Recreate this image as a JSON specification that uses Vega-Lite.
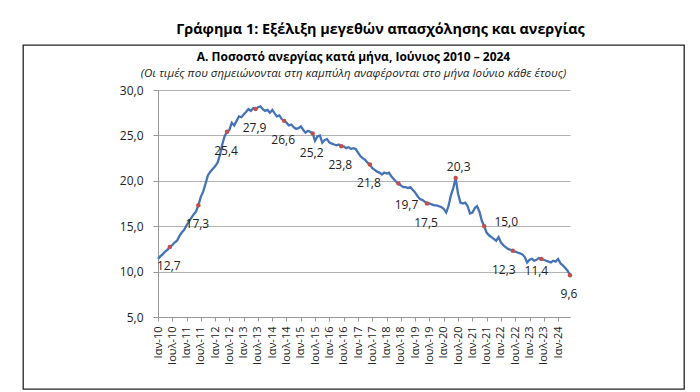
{
  "$schema": "https://vega.github.io/schema/vega-lite/v6.json",
  "background": "white",
  "padding": {"left": 22, "top": 22, "right": 17, "bottom": 2},
  "title": {
    "text": "Γράφημα 1: Εξέλιξη μεγεθών απασχόλησης και ανεργίας",
    "font": "Open Sans", "fontSize": 14.4, "fontWeight": "bold", "color": "#000",
    "anchor": "middle", "dx": 27, "offset": 6.5
  },
  "datasets": {
    "monthly": [
      {"date": "2010-01-01", "value": 11.4}, {"date": "2010-02-01", "value": 11.7}, {"date": "2010-03-01", "value": 11.9}, {"date": "2010-04-01", "value": 12.2}, {"date": "2010-05-01", "value": 12.4}, {"date": "2010-06-01", "value": 12.7}, {"date": "2010-07-01", "value": 12.9}, {"date": "2010-08-01", "value": 13.2}, {"date": "2010-09-01", "value": 13.4}, {"date": "2010-10-01", "value": 13.9}, {"date": "2010-11-01", "value": 14.3}, {"date": "2010-12-01", "value": 14.6},
      {"date": "2011-01-01", "value": 15.1}, {"date": "2011-02-01", "value": 15.5}, {"date": "2011-03-01", "value": 15.9}, {"date": "2011-04-01", "value": 16.3}, {"date": "2011-05-01", "value": 16.6}, {"date": "2011-06-01", "value": 17.3}, {"date": "2011-07-01", "value": 18.2}, {"date": "2011-08-01", "value": 18.8}, {"date": "2011-09-01", "value": 19.7}, {"date": "2011-10-01", "value": 20.6}, {"date": "2011-11-01", "value": 21.0}, {"date": "2011-12-01", "value": 21.3},
      {"date": "2012-01-01", "value": 21.6}, {"date": "2012-02-01", "value": 22.0}, {"date": "2012-03-01", "value": 22.8}, {"date": "2012-04-01", "value": 24.0}, {"date": "2012-05-01", "value": 24.9}, {"date": "2012-06-01", "value": 25.4}, {"date": "2012-07-01", "value": 25.6}, {"date": "2012-08-01", "value": 26.4}, {"date": "2012-09-01", "value": 26.1}, {"date": "2012-10-01", "value": 26.6}, {"date": "2012-11-01", "value": 27.1}, {"date": "2012-12-01", "value": 27.0},
      {"date": "2013-01-01", "value": 27.3}, {"date": "2013-02-01", "value": 27.6}, {"date": "2013-03-01", "value": 27.9}, {"date": "2013-04-01", "value": 27.7}, {"date": "2013-05-01", "value": 28.0}, {"date": "2013-06-01", "value": 27.9}, {"date": "2013-07-01", "value": 28.1}, {"date": "2013-08-01", "value": 28.2}, {"date": "2013-09-01", "value": 27.9}, {"date": "2013-10-01", "value": 27.7}, {"date": "2013-11-01", "value": 27.8}, {"date": "2013-12-01", "value": 27.5},
      {"date": "2014-01-01", "value": 27.8}, {"date": "2014-02-01", "value": 27.4}, {"date": "2014-03-01", "value": 27.1}, {"date": "2014-04-01", "value": 27.2}, {"date": "2014-05-01", "value": 26.8}, {"date": "2014-06-01", "value": 26.6}, {"date": "2014-07-01", "value": 26.4}, {"date": "2014-08-01", "value": 26.1}, {"date": "2014-09-01", "value": 26.2}, {"date": "2014-10-01", "value": 25.9}, {"date": "2014-11-01", "value": 25.7}, {"date": "2014-12-01", "value": 25.8},
      {"date": "2015-01-01", "value": 26.0}, {"date": "2015-02-01", "value": 25.6}, {"date": "2015-03-01", "value": 25.3}, {"date": "2015-04-01", "value": 25.5}, {"date": "2015-05-01", "value": 25.4}, {"date": "2015-06-01", "value": 25.2}, {"date": "2015-07-01", "value": 24.4}, {"date": "2015-08-01", "value": 24.9}, {"date": "2015-09-01", "value": 25.0}, {"date": "2015-10-01", "value": 24.2}, {"date": "2015-11-01", "value": 24.5}, {"date": "2015-12-01", "value": 24.6},
      {"date": "2016-01-01", "value": 24.2}, {"date": "2016-02-01", "value": 24.1}, {"date": "2016-03-01", "value": 24.0}, {"date": "2016-04-01", "value": 23.9}, {"date": "2016-05-01", "value": 24.0}, {"date": "2016-06-01", "value": 23.8}, {"date": "2016-07-01", "value": 23.8}, {"date": "2016-08-01", "value": 23.6}, {"date": "2016-09-01", "value": 23.7}, {"date": "2016-10-01", "value": 23.5}, {"date": "2016-11-01", "value": 23.6}, {"date": "2016-12-01", "value": 23.5},
      {"date": "2017-01-01", "value": 23.1}, {"date": "2017-02-01", "value": 22.7}, {"date": "2017-03-01", "value": 22.5}, {"date": "2017-04-01", "value": 22.3}, {"date": "2017-05-01", "value": 22.0}, {"date": "2017-06-01", "value": 21.8}, {"date": "2017-07-01", "value": 21.4}, {"date": "2017-08-01", "value": 21.2}, {"date": "2017-09-01", "value": 21.0}, {"date": "2017-10-01", "value": 20.9}, {"date": "2017-11-01", "value": 20.7}, {"date": "2017-12-01", "value": 20.9},
      {"date": "2018-01-01", "value": 20.8}, {"date": "2018-02-01", "value": 20.9}, {"date": "2018-03-01", "value": 20.5}, {"date": "2018-04-01", "value": 20.2}, {"date": "2018-05-01", "value": 19.9}, {"date": "2018-06-01", "value": 19.7}, {"date": "2018-07-01", "value": 19.5}, {"date": "2018-08-01", "value": 19.3}, {"date": "2018-09-01", "value": 19.3}, {"date": "2018-10-01", "value": 19.2}, {"date": "2018-11-01", "value": 19.3}, {"date": "2018-12-01", "value": 19.0},
      {"date": "2019-01-01", "value": 18.7}, {"date": "2019-02-01", "value": 18.3}, {"date": "2019-03-01", "value": 18.0}, {"date": "2019-04-01", "value": 17.9}, {"date": "2019-05-01", "value": 17.7}, {"date": "2019-06-01", "value": 17.5}, {"date": "2019-07-01", "value": 17.5}, {"date": "2019-08-01", "value": 17.4}, {"date": "2019-09-01", "value": 17.3}, {"date": "2019-10-01", "value": 17.3}, {"date": "2019-11-01", "value": 17.2}, {"date": "2019-12-01", "value": 17.1},
      {"date": "2020-01-01", "value": 16.9}, {"date": "2020-02-01", "value": 16.5}, {"date": "2020-03-01", "value": 17.2}, {"date": "2020-04-01", "value": 18.4}, {"date": "2020-05-01", "value": 19.2}, {"date": "2020-06-01", "value": 20.3}, {"date": "2020-07-01", "value": 18.6}, {"date": "2020-08-01", "value": 17.6}, {"date": "2020-09-01", "value": 17.5}, {"date": "2020-10-01", "value": 17.6}, {"date": "2020-11-01", "value": 17.2}, {"date": "2020-12-01", "value": 16.4},
      {"date": "2021-01-01", "value": 16.5}, {"date": "2021-02-01", "value": 17.0}, {"date": "2021-03-01", "value": 17.2}, {"date": "2021-04-01", "value": 16.6}, {"date": "2021-05-01", "value": 15.6}, {"date": "2021-06-01", "value": 15.0}, {"date": "2021-07-01", "value": 14.3}, {"date": "2021-08-01", "value": 14.0}, {"date": "2021-09-01", "value": 13.8}, {"date": "2021-10-01", "value": 13.6}, {"date": "2021-11-01", "value": 13.4}, {"date": "2021-12-01", "value": 13.8},
      {"date": "2022-01-01", "value": 13.2}, {"date": "2022-02-01", "value": 12.9}, {"date": "2022-03-01", "value": 12.7}, {"date": "2022-04-01", "value": 12.5}, {"date": "2022-05-01", "value": 12.4}, {"date": "2022-06-01", "value": 12.3}, {"date": "2022-07-01", "value": 12.2}, {"date": "2022-08-01", "value": 12.1}, {"date": "2022-09-01", "value": 12.0}, {"date": "2022-10-01", "value": 11.9}, {"date": "2022-11-01", "value": 11.6}, {"date": "2022-12-01", "value": 11.0},
      {"date": "2023-01-01", "value": 11.3}, {"date": "2023-02-01", "value": 11.4}, {"date": "2023-03-01", "value": 11.2}, {"date": "2023-04-01", "value": 11.3}, {"date": "2023-05-01", "value": 11.5}, {"date": "2023-06-01", "value": 11.4}, {"date": "2023-07-01", "value": 11.3}, {"date": "2023-08-01", "value": 11.2}, {"date": "2023-09-01", "value": 11.1}, {"date": "2023-10-01", "value": 11.0}, {"date": "2023-11-01", "value": 11.2}, {"date": "2023-12-01", "value": 11.1},
      {"date": "2024-01-01", "value": 11.4}, {"date": "2024-02-01", "value": 10.9}, {"date": "2024-03-01", "value": 10.7}, {"date": "2024-04-01", "value": 10.4}, {"date": "2024-05-01", "value": 10.1}, {"date": "2024-06-01", "value": 9.6}
    ],
    "june": [
      {"date": "2010-06-01", "value": 12.7}, {"date": "2011-06-01", "value": 17.3}, {"date": "2012-06-01", "value": 25.4}, {"date": "2013-06-01", "value": 27.9}, {"date": "2014-06-01", "value": 26.6}, {"date": "2015-06-01", "value": 25.2}, {"date": "2016-06-01", "value": 23.8}, {"date": "2017-06-01", "value": 21.8}, {"date": "2018-06-01", "value": 19.7}, {"date": "2019-06-01", "value": 17.5}, {"date": "2020-06-01", "value": 20.3}, {"date": "2021-06-01", "value": 15.0}, {"date": "2022-06-01", "value": 12.3}, {"date": "2023-06-01", "value": 11.4}, {"date": "2024-06-01", "value": 9.6}
    ]
  },
  "vconcat": [
    {
      "width": 661,
      "height": 344,
      "title": {
        "text": "Α. Ποσοστό ανεργίας κατά μήνα, Ιούνιος 2010 – 2024",
        "subtitle": "(Οι τιμές που σημειώνονται στη καμπύλη αναφέρονται στο μήνα Ιούνιο κάθε έτους)",
        "font": "Open Sans", "fontSize": 12, "fontWeight": "bold", "color": "#000",
        "subtitleFont": "Open Sans", "subtitleFontSize": 11.6, "subtitleFontStyle": "italic", "subtitleColor": "#222",
        "subtitlePadding": 4, "anchor": "middle", "offset": -36
      },
      "layer": [
        {
          "data": {"name": "monthly"},
          "mark": {"type": "line", "color": "#4474b7", "strokeWidth": 2.3},
          "encoding": {
            "x": {
              "field": "date", "type": "temporal",
              "scale": {"type": "utc", "range": [135, 547]},
              "axis": {
                "title": null, "offset": -72, "grid": false,
                "tickCount": {"interval": "month", "step": 6},
                "labelExpr": "(utcmonth(datum.value) == 0 ? 'Ιαν-' : 'Ιουλ-') + utcFormat(datum.value, '%y')",
                "labelAngle": 270, "labelAlign": "right", "labelBaseline": "middle",
                "labelFont": "Open Sans", "labelFontSize": 11, "labelColor": "#222",
                "labelPadding": 5, "labelOverlap": false, "labelFlush": false,
                "tickSize": 4, "tickColor": "#999", "domainColor": "#999"
              }
            },
            "y": {
              "field": "value", "type": "quantitative",
              "scale": {"domain": [5, 30], "range": [272, 45], "nice": false, "zero": false},
              "axis": {
                "title": null, "offset": -135, "values": [5, 10, 15, 20, 25, 30], "format": ".1f",
                "grid": true, "gridColor": "#b3b3b3", "gridWidth": 1.2,
                "labelFont": "Open Sans", "labelFontSize": 12, "labelColor": "#222", "labelPadding": 10,
                "tickSize": 5, "tickColor": "#999", "domainColor": "#999"
              }
            }
          }
        },
        {
          "data": {"name": "june"},
          "mark": {"type": "point", "filled": true, "color": "#c0504d", "size": 20, "opacity": 1},
          "encoding": {
            "x": {"field": "date", "type": "temporal"},
            "y": {"field": "value", "type": "quantitative"}
          }
        },
        {
          "data": {"name": "june"},
          "transform": [{"filter": {"field": "value", "oneOf": [12.7, 17.3, 25.4, 27.9, 26.6, 25.2, 23.8, 21.8, 17.5, 9.6]}}],
          "mark": {"type": "text", "font": "Open Sans", "fontSize": 12, "color": "#222", "dx": -1, "dy": 19},
          "encoding": {
            "x": {"field": "date", "type": "temporal"},
            "y": {"field": "value", "type": "quantitative"},
            "text": {"field": "value", "type": "quantitative", "format": ".1f"}
          }
        },
        {
          "data": {"name": "june"},
          "transform": [{"filter": {"field": "value", "oneOf": [19.7]}}],
          "mark": {"type": "text", "font": "Open Sans", "fontSize": 12, "color": "#222", "dx": 8, "dy": 21},
          "encoding": {
            "x": {"field": "date", "type": "temporal"},
            "y": {"field": "value", "type": "quantitative"},
            "text": {"field": "value", "type": "quantitative", "format": ".1f"}
          }
        },
        {
          "data": {"name": "june"},
          "transform": [{"filter": {"field": "value", "oneOf": [20.3]}}],
          "mark": {"type": "text", "font": "Open Sans", "fontSize": 12, "color": "#222", "dx": 3, "dy": -11},
          "encoding": {
            "x": {"field": "date", "type": "temporal"},
            "y": {"field": "value", "type": "quantitative"},
            "text": {"field": "value", "type": "quantitative", "format": ".1f"}
          }
        },
        {
          "data": {"name": "june"},
          "transform": [{"filter": {"field": "value", "oneOf": [15.0]}}],
          "mark": {"type": "text", "font": "Open Sans", "fontSize": 12, "color": "#222", "dx": 22, "dy": -4},
          "encoding": {
            "x": {"field": "date", "type": "temporal"},
            "y": {"field": "value", "type": "quantitative"},
            "text": {"field": "value", "type": "quantitative", "format": ".1f"}
          }
        },
        {
          "data": {"name": "june"},
          "transform": [{"filter": {"field": "value", "oneOf": [12.3]}}],
          "mark": {"type": "text", "font": "Open Sans", "fontSize": 12, "color": "#222", "dx": -9, "dy": 19},
          "encoding": {
            "x": {"field": "date", "type": "temporal"},
            "y": {"field": "value", "type": "quantitative"},
            "text": {"field": "value", "type": "quantitative", "format": ".1f"}
          }
        },
        {
          "data": {"name": "june"},
          "transform": [{"filter": {"field": "value", "oneOf": [11.4]}}],
          "mark": {"type": "text", "font": "Open Sans", "fontSize": 12, "color": "#222", "dx": -5, "dy": 12},
          "encoding": {
            "x": {"field": "date", "type": "temporal"},
            "y": {"field": "value", "type": "quantitative"},
            "text": {"field": "value", "type": "quantitative", "format": ".1f"}
          }
        }
      ]
    }
  ],
  "config": {
    "font": "Open Sans",
    "view": {"stroke": "#222", "strokeWidth": 1.3},
    "concat": {"spacing": 0},
    "locale": {
      "number": {"decimal": ",", "thousands": ".", "grouping": [3], "currency": ["", " €"]}
    }
  }
}
